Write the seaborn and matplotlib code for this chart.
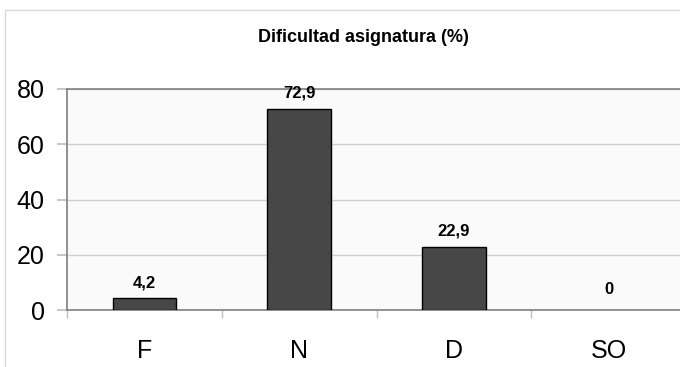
import matplotlib
matplotlib.use('Agg')
import matplotlib.pyplot as plt
import seaborn as sns
import pandas as pd
from matplotlib.patches import Rectangle

categorias = ['F', 'N', 'D', 'SO']
porcentajes = [4.2, 72.9, 22.9, 0.0]
etiquetas = ['4,2', '72,9', '22,9', '0']

sns.set_theme(style='white')
plt.rcParams['font.family'] = ['Liberation Sans', 'DejaVu Sans']
plt.rcParams['text.color'] = 'black'

df = pd.DataFrame({'categoria': categorias, 'pct': porcentajes})

fig = plt.figure(figsize=(6.8, 3.67), dpi=100)
fig.patch.set_facecolor('white')
# marco exterior gris claro
fig.patches.append(Rectangle((5 / 680, -0.1), 1.2, 1 - 10 / 367 + 0.1,
                             transform=fig.transFigure, fill=False,
                             edgecolor='#d9d9d9', linewidth=1))

ax = fig.add_axes([67 / 680, 1 - 310 / 367, 1 - 67 / 680, (310 - 89) / 367])
ax.set_facecolor('#fafafa')

sns.barplot(data=df, x='categoria', y='pct', color='#474747', width=0.41,
            edgecolor='black', linewidth=1, saturation=1, ax=ax, zorder=3)
# la barra de valor 0 no se dibuja
for p, v in zip(ax.patches, porcentajes):
    if v == 0:
        p.set_visible(False)

ax.set_ylim(0, 80)
ax.set_xlim(-0.5, 3.46)
ax.set_yticks([0, 20, 40, 60, 80])
ax.yaxis.grid(True, color='#d0d0d0', linewidth=1)
ax.set_axisbelow(True)

ax.spines['right'].set_visible(False)
for s in ['top', 'left', 'bottom']:
    ax.spines[s].set_color('#808080')
    ax.spines[s].set_linewidth(1.2)

ax.tick_params(axis='y', which='major', length=7, color='#c0c0c0', labelsize=18,
               labelcolor='black', left=True, pad=9)
ax.tick_params(axis='x', which='major', length=0, labelsize=18, labelcolor='black', pad=21)
ax.set_xticks([-0.5, 0.5, 1.5, 2.5], minor=True)
ax.tick_params(axis='x', which='minor', length=6, color='#c0c0c0', bottom=True)

for i, (v, t) in enumerate(zip(porcentajes, etiquetas)):
    ax.annotate(t, (i, v), xytext=(0, 6 if v > 0 else 9), textcoords='offset points',
                ha='center', va='bottom', fontsize=12, fontweight='bold', color='black')

ax.set_xlabel('')
ax.set_ylabel('')
fig.text(0.535, 1 - 38 / 367, 'Dificultad asignatura (%)', ha='center', va='center',
         fontsize=13, fontweight='bold', color='black')

fig.savefig('out.png', dpi=100)
